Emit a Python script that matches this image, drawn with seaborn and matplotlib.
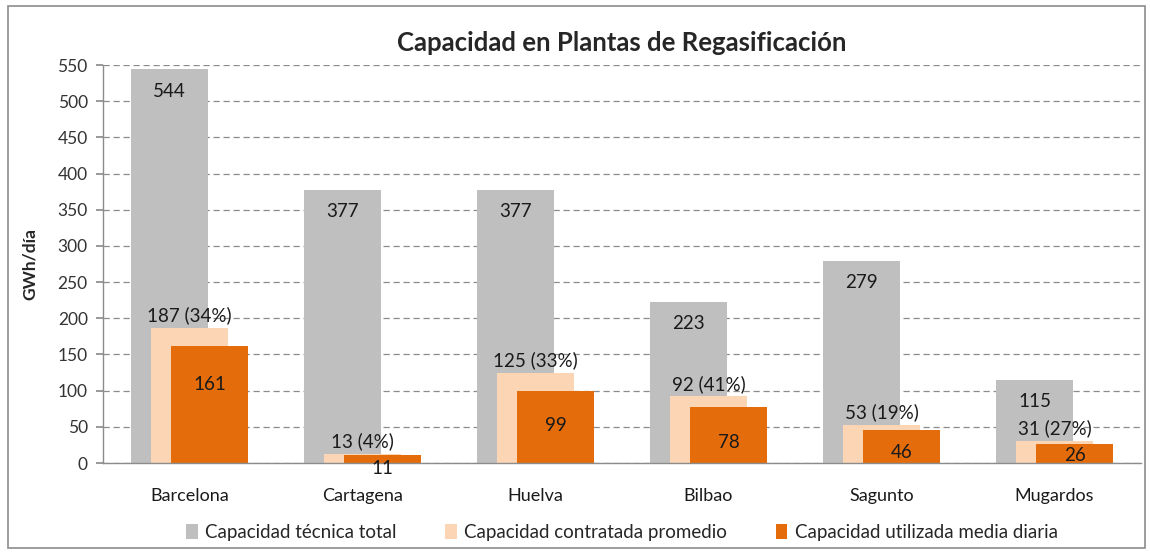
import matplotlib
matplotlib.use("Agg")
import matplotlib.pyplot as plt
from matplotlib.patches import Rectangle
import seaborn as sns

plants = ["Barcelona", "Cartagena", "Huelva", "Bilbao", "Sagunto", "Mugardos"]
tecnica = [544, 377, 377, 223, 279, 115]
contratada = [187, 13, 125, 92, 53, 31]
contratada_pct = [34, 4, 33, 41, 19, 27]
utilizada = [161, 11, 99, 78, 46, 26]

# where Excel left the orange labels (data units)
utilizada_label_y = [109, -8, 52, 29, 14, 11]

GREY = "#BFBFBF"
PEACH = "#FCD5B5"
ORANGE = "#E46C0A"

sns.set_theme(style="white")
plt.rcParams["font.family"] = ["Lato", "DejaVu Sans"]

fig = plt.figure(figsize=(11.5, 5.54), dpi=100)
ax = fig.add_axes([103 / 1150, 1 - 463 / 554, 1038 / 1150, 398 / 554])

width = 0.445
step = 0.1156
series = [
    (tecnica, GREY, "Capacidad técnica total", -step),
    (contratada, PEACH, "Capacidad contratada promedio", 0.0),
    (utilizada, ORANGE, "Capacidad utilizada media diaria", step),
]
for vals, col, name, shift in series:
    n0 = len(ax.patches)
    sns.barplot(x=plants, y=vals, color=col, width=width, errorbar=None,
                label=name, saturation=1, ax=ax)
    for p in ax.patches[n0:]:
        p.set_x(p.get_x() + shift)
        p.set_edgecolor("none")

lab = dict(fontsize=13.5, color="#1a1a1a", ha="center")
for i in range(len(plants)):
    ax.text(i - step, tecnica[i] - 30, str(tecnica[i]), va="center", **lab)
    ax.text(i, contratada[i] + 5, f"{contratada[i]} ({contratada_pct[i]}%)",
            va="bottom", **lab)
    ax.text(i + step, utilizada_label_y[i], str(utilizada[i]), va="center", **lab)

ax.set_ylim(0, 550)
ax.set_xlim(-0.5, 5.5)
ax.set_yticks(range(0, 551, 50))
ax.yaxis.grid(True, linestyle=(0, (5, 3)), color="#8c8c8c", linewidth=0.9)
ax.set_axisbelow(True)
ax.tick_params(axis="y", length=5, color="#8c8c8c", labelsize=12.5, pad=6,
               labelcolor="#333333", left=True)
ax.tick_params(axis="x", length=0, labelsize=13, pad=18, labelcolor="#1a1a1a")
for s in ["top", "right"]:
    ax.spines[s].set_visible(False)
for s in ["left", "bottom"]:
    ax.spines[s].set_color("#8c8c8c")
    ax.spines[s].set_linewidth(1)
ax.set_xlabel("")
ax.set_ylabel("GWh/día", fontsize=12.5, fontweight="bold", labelpad=14)

ax.set_title("Capacidad en Plantas de Regasificación", fontsize=18.5,
             fontweight="bold", pad=10)

ax.legend(loc="center", bbox_to_anchor=(0.5, -0.175), ncol=3, frameon=False,
          fontsize=13.5, handlelength=0.6, handleheight=0.8,
          handletextpad=0.4, columnspacing=2.6)

fig.patches.append(Rectangle((8 / 1150, 6 / 554), 1137 / 1150, 542 / 554,
                             transform=fig.transFigure, fill=False,
                             edgecolor="#8c8c8c", linewidth=1.2))

fig.savefig("out.png", dpi=100)
